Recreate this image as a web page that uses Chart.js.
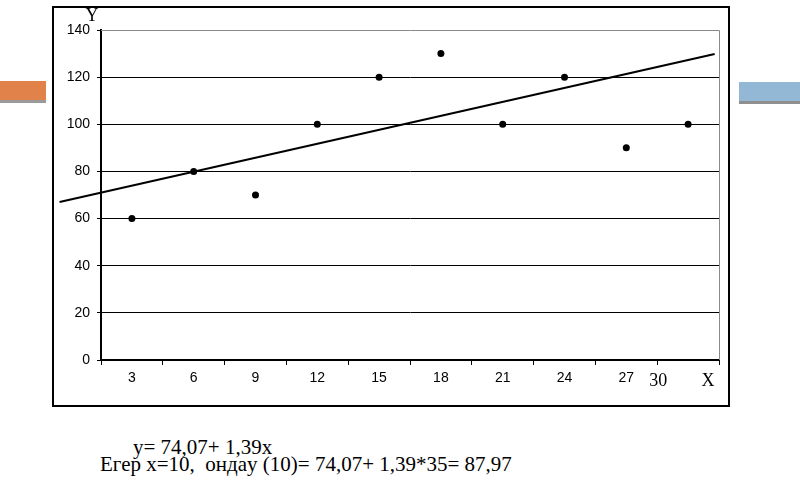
<!DOCTYPE html>
<html>
<head>
<meta charset="utf-8">
<script src="https://cdn.jsdelivr.net/npm/chart.js@4.4.1/dist/chart.umd.min.js"></script>
<style>
  body { margin: 0; width: 800px; height: 482px; background: #fff; position: relative; overflow: hidden; }
  .bar-left { position: absolute; left: 0; top: 81px; width: 46px; height: 19px; background: #e0824a; border-bottom: 3px solid #9a9a9a; }
  .bar-right { position: absolute; left: 739px; top: 82px; width: 61px; height: 19px; background: #93b8d6; border-bottom: 3px solid #8f8f8f; }
  #box { position: absolute; left: 52px; top: 6px; width: 674px; height: 397px; border: 2px solid #000; }
  #graph { display: block; }
  .formula { position: absolute; font-family: "Liberation Serif", "Times New Roman", serif; font-size: 21px; line-height: 24px; color: #000; white-space: pre; }
</style>
</head>
<body>
<div class="bar-left"></div>
<div class="bar-right"></div>
<div id="box"><canvas id="graph" width="674" height="397"></canvas></div>
<div class="formula" style="left:133px; top:435px;">y= 74,07+ 1,39x</div>
<div class="formula" style="left:100px; top:452px;">Егер x=10,  ондаy (10)= 74,07+ 1,39*35= 87,97</div>
<script>
// categories on the X axis (last one has no printed label)
var xLabels = ["3", "6", "9", "12", "15", "18", "21", "24", "27", ""];
var yValues = [60, 80, 70, 100, 120, 130, 100, 120, 90, 100];
// trend line ends, in category-index units
var trendX = [-1.17, 9.43];
var trendY = [67, 129.8];

var trendData = [];
for (var i = 0; i < trendX.length; i++) {
    trendData.push({ x: trendX[i], y: trendY[i] });
}

// extra texts: "Y", "30", "X" and the grey frame of the plot area
var extras = {
    id: "extras",
    afterDraw: function (chart) {
        var ctx = chart.ctx;
        var area = chart.chartArea;
        var xs = chart.scales.x;
        ctx.save();
        ctx.strokeStyle = "#8a8a8a";
        ctx.lineWidth = 1;
        ctx.beginPath();
        ctx.moveTo(area.left, area.top + 0.5);
        ctx.lineTo(area.right + 0.5, area.top + 0.5);
        ctx.lineTo(area.right + 0.5, area.bottom);
        ctx.stroke();

        ctx.fillStyle = "#000";
        ctx.font = "18px 'Liberation Serif', serif";
        ctx.textAlign = "center";
        ctx.textBaseline = "middle";
        ctx.fillText("Y", area.left - 9, area.top - 14);
        var mid = (xs.getPixelForValue(8) + xs.getPixelForValue(9)) / 2;
        ctx.fillText("30", mid + 1, area.bottom + 21);
        ctx.fillText("X", area.right - 11, area.bottom + 21);
        ctx.restore();
    }
};

var chart = new Chart(document.getElementById("graph").getContext("2d"), {
    type: "line",
    data: {
        labels: xLabels,
        datasets: [{
            label: "Y",
            data: yValues,
            showLine: false,
            pointRadius: 3.5,
            pointBackgroundColor: "#000",
            pointBorderColor: "#000",
            pointBorderWidth: 0
        }, {
            label: "trend",
            data: trendData,
            xAxisID: "xt",
            borderColor: "#000",
            borderWidth: 2,
            pointRadius: 0,
            clip: false
        }]
    },
    plugins: [extras],
    options: {
        responsive: false,
        animation: false,
        layout: { padding: { top: 22, right: 9, left: 0, bottom: 0 } },
        plugins: {
            legend: { display: false },
            tooltip: { enabled: false }
        },
        scales: {
            x: {
                type: "category",
                offset: true,
                grid: {
                    offset: true,
                    drawOnChartArea: false,
                    drawTicks: true,
                    tickLength: 5,
                    color: "#000"
                },
                border: { color: "#000", width: 2 },
                ticks: {
                    color: "#000",
                    padding: 5,
                    maxRotation: 0,
                    autoSkip: false,
                    font: { family: "'Liberation Sans', Arial, sans-serif", size: 14 }
                },
                afterFit: function (scale) { scale.height = 45; }
            },
            xt: {
                type: "linear",
                display: false,
                min: -0.5,
                max: 9.5
            },
            y: {
                min: 0,
                max: 140,
                ticks: {
                    stepSize: 20,
                    color: "#000",
                    padding: 7,
                    font: { family: "'Liberation Sans', Arial, sans-serif", size: 14 }
                },
                grid: {
                    color: function (c) { return c.tick && c.tick.value === 140 ? "rgba(0,0,0,0)" : "#000"; },
                    lineWidth: 1,
                    tickLength: 4,
                    tickColor: "#000"
                },
                border: { color: "#000", width: 2 },
                afterFit: function (scale) { scale.width = 47; }
            }
        }
    }
});
</script>
</body>
</html>
